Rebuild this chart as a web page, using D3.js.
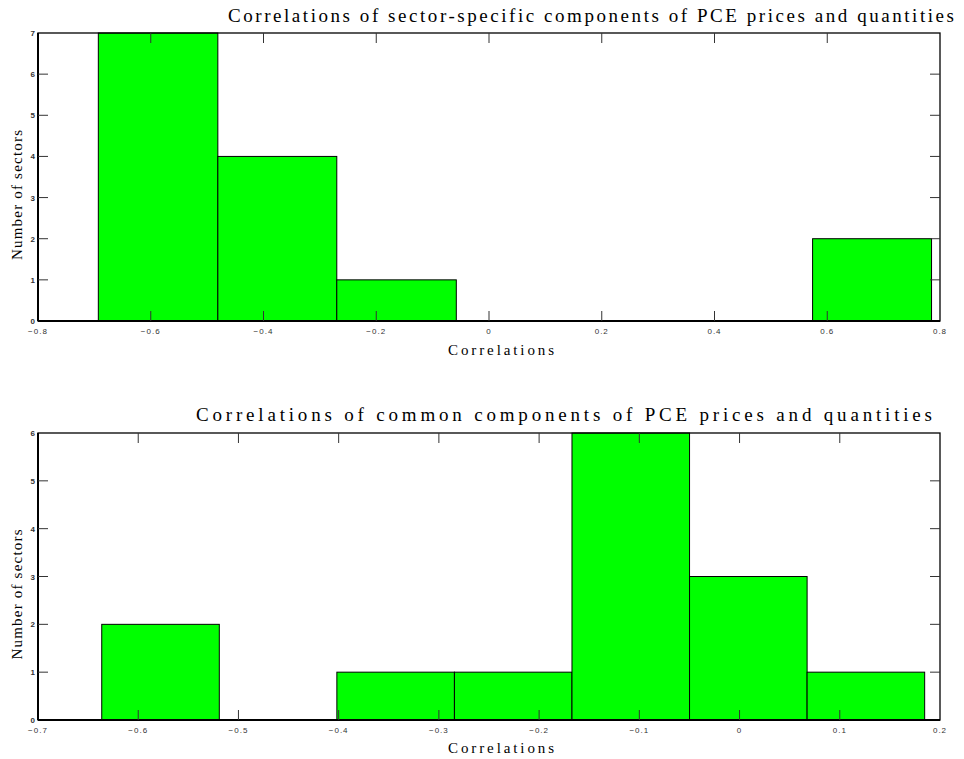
<!DOCTYPE html>
<html><head><meta charset="utf-8">
<script src="https://cdn.jsdelivr.net/npm/d3@7"></script>
<style>body{margin:0;background:#fff}svg{display:block}</style>
</head><body>
<script>
// Top histogram
const topEdges = [-0.693, -0.481, -0.270, -0.058, 0.154, 0.362, 0.574, 0.785];
const topCounts = [7, 4, 1, 0, 0, 0, 2];
const topXTicks = [-0.8, -0.6, -0.4, -0.2, 0, 0.2, 0.4, 0.6, 0.8];
const topYTicks = [0, 1, 2, 3, 4, 5, 6, 7];
const topTitle = "Correlations of sector-specific components of PCE prices and quantities";
// Bottom histogram
const botEdges = [-0.6364, -0.5191, -0.4018, -0.2845, -0.1672, -0.0499, 0.0674, 0.1847];
const botCounts = [2, 0, 1, 1, 6, 3, 1];
const botXTicks = [-0.7, -0.6, -0.5, -0.4, -0.3, -0.2, -0.1, 0, 0.1, 0.2];
const botYTicks = [0, 1, 2, 3, 4, 5, 6];
const botTitle = "Correlations of common components of PCE prices and quantities";
const xLabel = "Correlations";
const yLabel = "Number of sectors";

const W = 964, H = 759;
const svg = d3.select("body").append("svg").attr("width", W).attr("height", H);

function panel(cfg) {
  const {edges, counts, xTicks, yTicks, title, top, bottom, titleX, titleW, titleY, xlabY} = cfg;
  const left = 38, right = 940;
  const x = d3.scaleLinear().domain([xTicks[0], xTicks[xTicks.length-1]]).range([left, right]);
  const y = d3.scaleLinear().domain([0, yTicks[yTicks.length-1]]).range([bottom, top]);
  const g = svg.append("g");
  const bins = counts.map((c, i) => ({x0: edges[i], x1: edges[i+1], c}));
  g.selectAll("rect.bar").data(bins).join("rect").attr("class","bar")
    .attr("x", d => x(d.x0)).attr("width", d => x(d.x1) - x(d.x0))
    .attr("y", d => y(d.c)).attr("height", d => y(0) - y(d.c))
    .attr("fill", "#00ff00").attr("stroke", "#000").attr("stroke-width", 1);
  // frame
  g.append("rect").attr("x", left).attr("y", top).attr("width", right-left).attr("height", bottom-top)
    .attr("fill", "none").attr("stroke", "#000").attr("stroke-width", 1.3);
  g.append("line").attr("x1", left).attr("x2", right).attr("y1", bottom).attr("y2", bottom)
    .attr("stroke", "#000").attr("stroke-width", 2);
  g.append("line").attr("x1", left).attr("x2", left).attr("y1", top).attr("y2", bottom)
    .attr("stroke", "#000").attr("stroke-width", 2);
  const tl = 10;
  const xt = xTicks.slice(1, -1);
  g.selectAll("line.xtb").data(xt).join("line").attr("x1", d=>x(d)).attr("x2", d=>x(d))
    .attr("y1", bottom).attr("y2", bottom - tl).attr("stroke", "#333");
  g.selectAll("line.xtt").data(xt).join("line").attr("x1", d=>x(d)).attr("x2", d=>x(d))
    .attr("y1", top).attr("y2", top + tl).attr("stroke", "#333");
  const yt = yTicks.slice(1, -1);
  g.selectAll("line.ytl").data(yt).join("line").attr("y1", d=>y(d)).attr("y2", d=>y(d))
    .attr("x1", left).attr("x2", left + tl).attr("stroke", "#333");
  g.selectAll("line.ytr").data(yt).join("line").attr("y1", d=>y(d)).attr("y2", d=>y(d))
    .attr("x1", right).attr("x2", right - tl).attr("stroke", "#333");
  g.selectAll("text.xl").data(xTicks).join("text")
    .attr("x", d => x(d)).attr("y", bottom + 13).attr("text-anchor", "middle")
    .attr("font-family", "Liberation Sans, Arial, sans-serif").attr("font-size", 8)
    .attr("letter-spacing", 1).attr("fill", "#333")
    .text(d => d === 0 ? "0" : d3.format("")(d));
  g.selectAll("text.yl").data(yTicks).join("text")
    .attr("x", left - 3).attr("y", d => y(d) + 3).attr("text-anchor", "end")
    .attr("font-family", "Liberation Sans, Arial, sans-serif").attr("font-size", 8)
    .attr("font-weight", "bold").attr("fill", "#333").text(d => d);
  g.append("text").attr("x", titleX).attr("y", titleY)
    .attr("font-family", "Liberation Serif, Times New Roman, serif").attr("font-size", 19)
    .attr("textLength", titleW).attr("lengthAdjust", "spacing").text(title);
  g.append("text").attr("x", 448).attr("y", xlabY)
    .attr("font-family", "Liberation Serif, Times New Roman, serif").attr("font-size", 15)
    .attr("textLength", 106).attr("lengthAdjust", "spacing").text(xLabel);
  g.append("text").attr("transform", `translate(22,${(top+bottom)/2 + 18}) rotate(-90)`)
    .attr("text-anchor", "middle")
    .attr("font-family", "Liberation Serif, Times New Roman, serif").attr("font-size", 15)
    .attr("textLength", 130).attr("lengthAdjust", "spacing")
    .text(yLabel);
}

panel({edges: topEdges, counts: topCounts, xTicks: topXTicks, yTicks: topYTicks, title: topTitle,
  top: 33, bottom: 321, titleX: 228, titleW: 726, titleY: 22, xlabY: 355});
panel({edges: botEdges, counts: botCounts, xTicks: botXTicks, yTicks: botYTicks, title: botTitle,
  top: 433, bottom: 720, titleX: 196, titleW: 736, titleY: 421, xlabY: 753});
</script>
</body></html>
